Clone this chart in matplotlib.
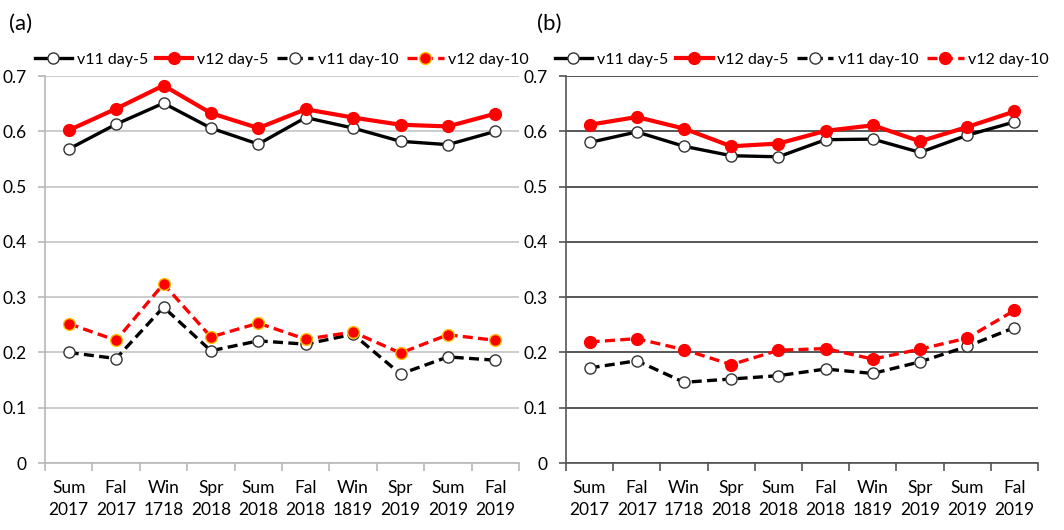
import matplotlib.pyplot as plt

plt.rcParams['font.family'] = ['Lato', 'DejaVu Sans']

seasons = ['Sum\n2017', 'Fal\n2017', 'Win\n1718', 'Spr\n2018', 'Sum\n2018',
           'Fal\n2018', 'Win\n1819', 'Spr\n2019', 'Sum\n2019', 'Fal\n2019']

# panel (a)
a_v11_d5 = [0.568, 0.613, 0.651, 0.606, 0.577, 0.625, 0.606, 0.582, 0.576, 0.600]
a_v12_d5 = [0.602, 0.641, 0.683, 0.633, 0.606, 0.640, 0.625, 0.612, 0.609, 0.632]
a_v11_d10 = [0.200, 0.189, 0.282, 0.203, 0.221, 0.215, 0.233, 0.161, 0.192, 0.186]
a_v12_d10 = [0.252, 0.222, 0.324, 0.228, 0.253, 0.224, 0.237, 0.199, 0.232, 0.222]

# panel (b)
b_v11_d5 = [0.580, 0.599, 0.573, 0.556, 0.554, 0.585, 0.586, 0.562, 0.593, 0.617]
b_v12_d5 = [0.612, 0.626, 0.605, 0.573, 0.578, 0.601, 0.611, 0.582, 0.608, 0.636]
b_v11_d10 = [0.172, 0.185, 0.146, 0.152, 0.158, 0.170, 0.162, 0.183, 0.211, 0.245]
b_v12_d10 = [0.219, 0.225, 0.205, 0.178, 0.204, 0.207, 0.188, 0.206, 0.226, 0.276]

yticks = [0, 0.1, 0.2, 0.3, 0.4, 0.5, 0.6, 0.7]

fig = plt.figure(figsize=(10.64, 5.30), dpi=100)
ax_a = fig.add_axes([0.0423, 0.1264, 0.4455, 0.730])
ax_b = fig.add_axes([0.532, 0.1264, 0.4436, 0.730])


def draw(ax, v11_5, v12_5, v11_10, v12_10, gridc, spinec, edge10):
    x = range(len(seasons))
    dash = (0, (3, 1.6))
    ax.plot(x, v11_5, color='black', lw=2.4, marker='o', ms=8,
            mfc='white', mec='#333333', mew=1.0, label='v11 day-5', zorder=3)
    ax.plot(x, v12_5, color='red', lw=3.0, marker='o', ms=8.5,
            mfc='red', mec='red', label='v12 day-5', zorder=4)
    ax.plot(x, v11_10, color='black', lw=2.4, ls=dash, marker='o', ms=8,
            mfc='white', mec='#333333', mew=1.0, label='v11 day-10', zorder=3)
    ax.plot(x, v12_10, color='red', lw=2.4, ls=dash, marker='o', ms=8.5,
            mfc='red', mec=edge10, mew=1.0, label='v12 day-10', zorder=4)
    ax.set_xlim(-0.5, 9.5)
    ax.set_ylim(0, 0.7)
    ax.set_yticks(yticks)
    ax.set_yticklabels(['0', '0.1', '0.2', '0.3', '0.4', '0.5', '0.6', '0.7'])
    ax.yaxis.grid(True, color=gridc, lw=1.2)
    ax.set_axisbelow(True)
    ax.set_xticks([i + 0.5 for i in range(-1, 10)])
    ax.set_xticklabels([])
    ax.set_xticks(list(x), minor=True)
    ax.set_xticklabels(seasons, minor=True, fontsize=12.5, linespacing=1.5)
    ax.tick_params(axis='x', which='minor', length=0, pad=12)
    ax.tick_params(axis='x', which='major', length=6, color=spinec, width=1.2)
    ax.tick_params(axis='y', length=5, color=spinec, width=1.2, labelsize=12.5, pad=8)
    for s in ['top', 'right']:
        ax.spines[s].set_visible(False)
    for s in ['left', 'bottom']:
        ax.spines[s].set_color(spinec)
        ax.spines[s].set_linewidth(1.2)
    leg = ax.legend(loc='lower center', bbox_to_anchor=(0.5, 1.0), ncol=4,
                    frameon=False, fontsize=11.5, handlelength=2.3,
                    handletextpad=0.3, columnspacing=0.5, borderaxespad=0.4,
                    borderpad=0.2)
    return leg


draw(ax_a, a_v11_d5, a_v12_d5, a_v11_d10, a_v12_d10, '#c4c4c4', '#b8b8b8', '#ffc000')
draw(ax_b, b_v11_d5, b_v12_d5, b_v11_d10, b_v12_d10, '#3a3a3a', '#555555', 'red')

fig.text(0.008, 0.955, '(a)', fontsize=16, va='center', ha='left')
fig.text(0.505, 0.955, '(b)', fontsize=16, va='center', ha='left')

fig.savefig('out.png', dpi=100)
